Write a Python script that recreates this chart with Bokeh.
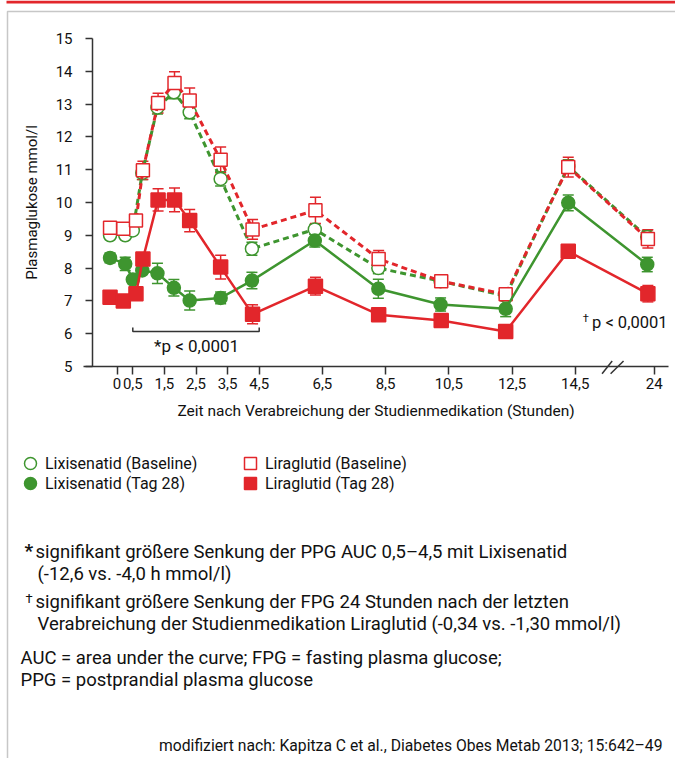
from bokeh.plotting import figure
from bokeh.models import (Range1d, FixedTicker, Whisker, TeeHead, Label, Legend, LegendItem,
                          BoxAnnotation, Arrow, ColumnDataSource)
from bokeh.core.properties import value
from bokeh.embed import file_html
from bokeh.resources import INLINE

FONT = "Roboto"
RED = "#e2262b"
GREEN = "#3e952f"
AXC = "#333333"
TXT = "#111111"

# ---- data ----
tick_pos = [0, 0.5, 1.5, 2.5, 3.5, 4.5, 6.5, 8.5, 10.5, 12.5, 14.5, 17.0]
tick_labels = ["0", "0,5", "1,5", "2,5", "3,5", "4,5", "6,5", "8,5", "10,5", "12,5", "14,5", "24"]
y_ticks = [5, 6, 7, 8, 9, 10, 11, 12, 13, 14, 15]

lixi_t = [-0.22, 0.26, 0.5, 0.8, 1.28, 1.8, 2.3, 3.28, 4.27, 6.26, 8.27, 10.24, 12.3, 14.28, 16.78]
lira_t = [-0.22, 0.2, 0.6, 0.82, 1.3, 1.82, 2.3, 3.28, 4.29, 6.28, 8.28, 10.26, 12.3, 14.28, 16.8]

lixi_base = [9.0, 9.0, 9.15, 10.9, 12.9, 13.36, 12.75, 10.72, 8.59, 9.18, 8.0, 7.6, 7.15, 11.1, 8.95]
lixi_base_err = [0.1, 0.1, 0.1, 0.2, 0.2, 0.2, 0.2, 0.22, 0.2, 0.15, 0.17, 0.1, 0.1, 0.2, 0.2]
lixi_d28 = [8.31, 8.13, 7.65, 7.93, 7.84, 7.4, 7.01, 7.09, 7.62, 8.84, 7.37, 6.89, 6.76, 9.99, 8.11]
lixi_d28_err = [0.15, 0.2, 0.1, 0.1, 0.31, 0.25, 0.29, 0.18, 0.25, 0.2, 0.29, 0.2, 0.24, 0.24, 0.22]
lira_base = [9.23, 9.2, 9.45, 10.98, 13.03, 13.64, 13.11, 11.3, 9.18, 9.76, 8.28, 7.6, 7.2, 11.08, 8.89]
lira_base_err = [0.1, 0.05, 0.1, 0.28, 0.3, 0.35, 0.38, 0.39, 0.3, 0.4, 0.26, 0.05, 0.05, 0.3, 0.28]
lira_d28 = [7.11, 7.0, 7.22, 8.28, 10.08, 10.08, 9.45, 8.03, 6.59, 7.45, 6.58, 6.4, 6.07, 8.51, 7.22]
lira_d28_err = [0.2, 0.05, 0.05, 0.1, 0.34, 0.36, 0.34, 0.36, 0.29, 0.27, 0.2, 0.05, 0.05, 0.2, 0.25]

bracket_x = [0.5, 0.5, 4.5, 4.5]
bracket_y = [6.19, 6.07, 6.07, 6.19]

# ---- geometry (pixels) ----
W, H = 675, 758
X0_PX, PX_PER_H = 116.5, 31.6     # x pixel of hour 0, pixels per hour
Y5_PX, PX_PER_U = 366.0, 32.8     # y pixel of 5 mmol/l, pixels per mmol/l

x_range = Range1d(-X0_PX / PX_PER_H, (W - X0_PX) / PX_PER_H)
y_range = Range1d(5 - (H - Y5_PX) / PX_PER_U, 5 + Y5_PX / PX_PER_U)

p = figure(width=W, height=H, x_range=x_range, y_range=y_range,
           output_backend="svg", toolbar_location=None)
p.min_border = 0
p.min_border_left = p.min_border_right = p.min_border_top = p.min_border_bottom = 0
p.grid.visible = False
p.outline_line_color = None
p.background_fill_color = "white"
p.border_fill_color = "white"

for ax in (p.xaxis[0], p.yaxis[0]):
    ax.axis_line_color = AXC
    ax.axis_line_width = 1.5
    ax.major_tick_line_color = AXC
    ax.major_tick_line_width = 1.5
    ax.major_tick_in = 0
    ax.minor_tick_line_color = None
    ax.major_label_text_font = FONT
    ax.major_label_text_font_size = "15px"
    ax.major_label_text_color = TXT
    ax.axis_label_text_font = FONT
    ax.axis_label_text_font_style = "normal"
    ax.axis_label_text_font_size = "15.5px"
    ax.axis_label_text_color = TXT

xa, ya = p.xaxis[0], p.yaxis[0]
xa.fixed_location = 5
xa.bounds = ((83 - X0_PX) / PX_PER_H, (668 - X0_PX) / PX_PER_H)
xa.ticker = FixedTicker(ticks=tick_pos)
xa.major_label_overrides = {float(t): l for t, l in zip(tick_pos, tick_labels)}
xa.major_tick_out = 8
xa.major_label_standoff = 3
xa.axis_label = "Zeit nach Verabreichung der Studienmedikation (Stunden)"
xa.axis_label_standoff = 10

ya.fixed_location = (92 - X0_PX) / PX_PER_H
ya.bounds = (5, 15)
ya.ticker = FixedTicker(ticks=y_ticks)
ya.major_tick_out = 7
ya.major_label_standoff = 13
ya.axis_label = "Plasmaglukose mmol/l"
ya.axis_label_text_font_size = "15px"
ya.axis_label_standoff = 12


def series(t, y, err, color, filled, marker, dash, size):
    src = ColumnDataSource(dict(x=t, y=y, lo=[a - b for a, b in zip(y, err)],
                                hi=[a + b for a, b in zip(y, err)]))
    w = Whisker(base="x", lower="lo", upper="hi", source=src, line_color=color, line_width=1.5,
                upper_head=TeeHead(size=11, line_color=color, line_width=1.5),
                lower_head=TeeHead(size=11, line_color=color, line_width=1.5), level="underlay")
    p.add_layout(w)
    if dash:
        p.line("x", "y", source=src, line_color=color, line_width=3, line_dash="6 4")
    else:
        p.line("x", "y", source=src, line_color=color, line_width=2.5)
    r = p.scatter("x", "y", source=src, marker=marker, size=size, line_color=color, line_width=1.5,
                  fill_color=color if filled else "white")
    return r


r_lixi_b = series(lixi_t, lixi_base, lixi_base_err, GREEN, False, "circle", True, 13)
r_lira_b = series(lira_t, lira_base, lira_base_err, RED, False, "square", True, 13)
r_lixi_d = series(lixi_t, lixi_d28, lixi_d28_err, GREEN, True, "circle", False, 13)
r_lira_d = series(lira_t, lira_d28, lira_d28_err, RED, True, "square", False, 14)

# bracket and p-value texts
p.line(bracket_x, bracket_y, line_color=AXC, line_width=1.5)
p.text(x=[2.52], y=[5.64], text=["*p < 0,0001"], text_font=value(FONT), text_font_size="17px",
       text_align="center", text_baseline="middle", text_color=TXT)
p.text(x=[17.42], y=[6.33], text=["p < 0,0001"], text_font=value(FONT), text_font_size="16.5px",
       text_align="right", text_baseline="middle", text_color=TXT)
p.text(x=[14.93], y=[6.47], text=["†"], text_font=value(FONT), text_font_size="11px",
       text_align="right", text_baseline="middle", text_color=TXT)

# axis break marks
for xs, xe in ((15.35, 15.67), (15.62, 16.03)):
    p.add_layout(Arrow(start=None, end=None, x_start=xs, y_start=4.78, x_end=xe, y_end=5.17,
                       line_color=AXC, line_width=1.5))


def lab(X, Y, text, size="18.5px", style="normal", align="left"):
    p.add_layout(Label(x=X, y=H - Y, x_units="screen", y_units="screen", text=text,
                       text_font=FONT, text_font_size=size, text_font_style=style,
                       text_align=align, text_baseline="middle", text_color=TXT))


def box(l, t, r, b, **kw):
    p.add_layout(BoxAnnotation(left=l, right=r, top=H - t, bottom=H - b,
                               left_units="screen", right_units="screen",
                               top_units="screen", bottom_units="screen", level="overlay", **kw))


# red bar + outer frame
box(6, 0, 700, 3, fill_color=RED, fill_alpha=1, line_color=None)
box(7, 11, 720, 800, fill_alpha=0, line_color="#444444", line_width=1.5)

# legends
for (X, Y, r, t) in ((30, 463, r_lixi_b, "Lixisenatid (Baseline)"), (30, 483, r_lixi_d, "Lixisenatid (Tag 28)"),
                     (250, 463, r_lira_b, "Liraglutid (Baseline)"), (250, 483, r_lira_d, "Liraglutid (Tag 28)")):
    lg = Legend(items=[LegendItem(label=t, renderers=[r])], location=(X - 15, H - Y - 15),
                glyph_width=30, glyph_height=30, label_standoff=-6, padding=0, margin=0,
                border_line_color=None, background_fill_alpha=0,
                label_text_font=FONT, label_text_font_size="16px", label_text_color=TXT)
    p.add_layout(lg)

# footnotes
lab(24, 550, "*", "19px", "bold")
lab(35, 551, "signifikant größere Senkung der PPG AUC 0,5–4,5 mit Lixisenatid")
lab(37, 573, "(-12,6 vs. -4,0 h mmol/l)")
lab(25, 598, "†", "13px")
lab(35, 601, "signifikant größere Senkung der FPG 24 Stunden nach der letzten")
lab(37, 623, "Verabreichung der Studienmedikation Liraglutid (-0,34 vs. -1,30 mmol/l)")
lab(20, 657, "AUC = area under the curve; FPG = fasting plasma glucose;")
lab(20, 679, "PPG = postprandial plasma glucose")
lab(662, 745, "modifiziert nach: Kapitza C et al., Diabetes Obes Metab 2013; 15:642–49", "15.7px", align="right")

open("out.html", "w").write(file_html(p, INLINE))
